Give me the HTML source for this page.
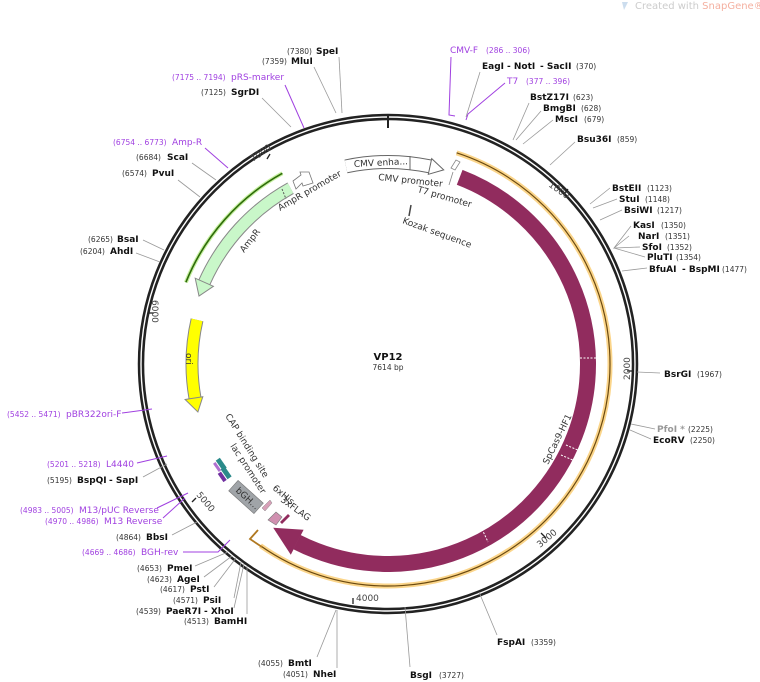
<!DOCTYPE html>
<html><head><meta charset="utf-8"><style>
html,body{margin:0;padding:0;background:#fff;}
svg{display:block;font-family:"DejaVu Sans","Liberation Sans",sans-serif;}
.n{font-size:7.5px;fill:#333;}
.b{font-size:9px;font-weight:bold;fill:#111;}
.p{font-size:9px;fill:#a040e0;}
.pn{font-size:7.5px;fill:#a040e0;}
.f{font-size:9px;fill:#333;}
.t{font-size:9px;fill:#444;}
.l{stroke:#999;stroke-width:0.8;fill:none;}
.lp{stroke:#a040e0;stroke-width:1;fill:none;}
</style></head><body>
<svg width="760" height="682" viewBox="0 0 760 682" xmlns="http://www.w3.org/2000/svg">
<text x="635" y="9" font-size="10" fill="#ccc">Created with <tspan fill="#f4b0a0">SnapGene®</tspan></text>
<polygon points="622,2 628,2 624,10" fill="#cde"/>

<!-- backbone -->
<circle cx="388" cy="364" r="247" fill="none" stroke="#222" stroke-width="6.5"/>
<circle cx="388" cy="364" r="247" fill="none" stroke="#fff" stroke-width="1.4"/>
<line x1="388" y1="116" x2="388" y2="128" stroke="#222" stroke-width="2"/>

<!-- ticks -->
<g stroke="#222" stroke-width="1.3">
<line x1="568" y1="189" x2="564" y2="194"/>
<line x1="634" y1="371" x2="627" y2="371"/>
<line x1="541" y1="533" x2="546" y2="538"/>
<line x1="353" y1="598" x2="353" y2="604"/>
<line x1="196" y1="498" x2="192" y2="502"/>
<line x1="148" y1="313" x2="154" y2="313"/>
<line x1="267" y1="159" x2="270" y2="154"/>
</g>
<g class="t" font-size="8.5">
<text transform="translate(548,186) rotate(35)">1000</text>
<text transform="translate(630,380) rotate(-90)">2000</text>
<text transform="translate(540,548) rotate(-40)">3000</text>
<text x="356" y="601">4000</text>
<text transform="translate(196,495) rotate(50)">5000</text>
<text transform="translate(152,300) rotate(90)">6000</text>
<text transform="translate(253,162) rotate(-35)">7000</text>
</g>

<!-- orange arc -->
<circle cx="388" cy="364" r="222" fill="none" stroke="#fbd58a" stroke-width="5" stroke-dasharray="763.4 2000" transform="rotate(-72 388 364)"/>
<circle cx="388" cy="364" r="222" fill="none" stroke="#6b4a10" stroke-width="1.2" stroke-dasharray="763.4 2000" transform="rotate(-72 388 364)"/>
<polyline points="262,547 250,539 258,530" fill="none" stroke="#b07820" stroke-width="1.8"/>

<!-- SpCas9 -->
<circle cx="388" cy="364" r="200" fill="none" stroke="#912c5e" stroke-width="16" stroke-dasharray="649.3 2000" transform="rotate(-69 388 364)"/>
<polygon points="303.6,529.7 290.8,554.7 273.2,527.8" fill="#912c5e"/>
<g stroke="#fff" stroke-width="1" stroke-dasharray="2 1.5">
<line x1="580" y1="358" x2="596" y2="358"/>
<line x1="566" y1="445" x2="580" y2="451"/>
<line x1="561" y1="455" x2="575" y2="461"/>
<line x1="482" y1="529" x2="488" y2="542"/>
</g>
<text class="f" transform="translate(548,465) rotate(-64)">SpCas9-HF1</text>

<!-- CMV enhancer / promoter -->
<circle cx="388" cy="364" r="202" fill="none" stroke="#666" stroke-width="14" stroke-dasharray="84.6 2000" transform="rotate(-102 388 364)"/>
<circle cx="388" cy="364" r="202" fill="none" stroke="#fff" stroke-width="12" stroke-dasharray="84.6 2000" transform="rotate(-102 388 364)"/>
<polygon points="428.3,174.3 431.7,158.6 443.7,169.9" fill="#fff" stroke="#666" stroke-width="1"/>
<line x1="410" y1="156" x2="410" y2="170" stroke="#666" stroke-width="1"/>
<text class="f" transform="translate(354,167) rotate(-3)">CMV enha...</text>
<text class="f" transform="translate(378,180) rotate(6)">CMV promoter</text>
<text class="f" transform="translate(417,192) rotate(16)">T7 promoter</text>
<text class="f" transform="translate(402,223) rotate(20)">Kozak sequence</text>
<line x1="411" y1="205" x2="409" y2="216" stroke="#444" stroke-width="1.5"/>
<polygon points="451,168 455,170 460,162 456,160" fill="#fff" stroke="#888" stroke-width="0.8"/>
<line x1="453" y1="172" x2="449" y2="185" stroke="#888" stroke-width="0.8"/>

<!-- AmpR -->
<circle cx="388" cy="364" r="218" fill="none" stroke="#c6f0a0" stroke-width="4" stroke-dasharray="148.4 2000" transform="rotate(-158 388 364)"/>
<circle cx="388" cy="364" r="218" fill="none" stroke="#2e6b0a" stroke-width="1.6" stroke-dasharray="148.4 2000" transform="rotate(-158 388 364)"/>
<circle cx="388" cy="364" r="201" fill="none" stroke="#888" stroke-width="13" stroke-dasharray="129.8 2000" transform="rotate(-156 388 364)"/>
<circle cx="388" cy="364" r="201" fill="none" stroke="#c9f7c9" stroke-width="11" stroke-dasharray="129.8 2000" transform="rotate(-156 388 364)"/>
<polygon points="213.4,286.3 195.2,278.2 199,296" fill="#c9f7c9" stroke="#888" stroke-width="1"/>
<line x1="282" y1="189" x2="286" y2="199" stroke="#555" stroke-width="1" stroke-dasharray="2 1.5"/>
<polygon points="293,181 301,175 300,172 309,172 313,183 303,186 302,183 296,189" fill="#fff" stroke="#777" stroke-width="0.8"/>
<text class="f" transform="translate(280,211) rotate(-30)">AmpR promoter</text>
<text class="f" transform="translate(244,253) rotate(-52)">AmpR</text>

<!-- ori -->
<circle cx="388" cy="364" r="196" fill="none" stroke="#888" stroke-width="13" stroke-dasharray="78.7 2000" transform="rotate(-190 388 364)"/>
<circle cx="388" cy="364" r="196" fill="none" stroke="#ffff00" stroke-width="11" stroke-dasharray="78.7 2000" transform="rotate(-190 388 364)"/>
<polygon points="202.8,396.7 185.1,399.5 197.9,412" fill="#ffff00" stroke="#888" stroke-width="1"/>
<text class="f" transform="translate(186,353) rotate(90)">ori</text>

<!-- small lower-left features -->
<g transform="translate(220,465) rotate(55)">
<rect x="-6" y="-4" width="12" height="5" fill="#2a8a8a"/>
<rect x="-5" y="2" width="10" height="3" fill="#b070d0"/>
<rect x="4" y="-3" width="12" height="5" fill="#2a8a8a"/>
<rect x="6" y="3" width="10" height="4" fill="#7030a0"/>
</g>
<g transform="translate(246,497) rotate(42)">
<rect x="-17" y="-7" width="34" height="14" fill="#a0a4a8" stroke="#777" stroke-width="0.6"/>
<text x="-12" y="3" font-size="9" fill="#333">bGH...</text>
</g>
<polygon points="262,508 270,500 272,503 265,511" fill="#d8a0b8" stroke="#888" stroke-width="0.5"/>
<polygon points="268,520 276,512 282,517 276,525" fill="#d090b0" stroke="#777" stroke-width="0.6"/>
<polygon points="280,522 288,514 290,516 282,524" fill="#912c5e"/>
<text class="f" transform="translate(225,416) rotate(58)">CAP binding site</text>
<text class="f" transform="translate(230,446) rotate(57)">lac promoter</text>
<text class="f" transform="translate(272,489) rotate(40)">6xHis</text>
<text class="f" transform="translate(280,501) rotate(36)">3xFLAG</text>

<!-- center -->
<text x="388" y="360" text-anchor="middle" font-size="10" font-weight="bold" fill="#111">VP12</text>
<text x="388" y="370" text-anchor="middle" font-size="7.5" fill="#333">7614 bp</text>

<!-- top-left labels -->
<text class="n" x="287" y="54">(7380)</text><text class="b" x="316" y="54">SpeI</text>
<polyline class="l" points="339,57 342,113"/>
<text class="n" x="262" y="64">(7359)</text><text class="b" x="291" y="64">MluI</text>
<polyline class="l" points="314,67 336,113"/>
<text class="pn" x="172" y="80">(7175 .. 7194)</text><text class="p" x="231" y="80">pRS-marker</text>
<polyline class="lp" points="285,85 304,128"/>
<text class="n" x="201" y="95">(7125)</text><text class="b" x="231" y="95">SgrDI</text>
<polyline class="l" points="262,98 291,127"/>
<text class="pn" x="113" y="145">(6754 .. 6773)</text><text class="p" x="172" y="145">Amp-R</text>
<polyline class="lp" points="205,148 228,168"/>
<text class="n" x="136" y="160">(6684)</text><text class="b" x="167" y="160">ScaI</text>
<polyline class="l" points="192,163 216,180"/>
<text class="n" x="122" y="176">(6574)</text><text class="b" x="152" y="176">PvuI</text>
<polyline class="l" points="178,180 200,197"/>
<text class="n" x="88" y="242">(6265)</text><text class="b" x="117" y="242">BsaI</text>
<polyline class="l" points="143,240 164,250"/>
<text class="n" x="80" y="254">(6204)</text><text class="b" x="110" y="254">AhdI</text>
<polyline class="l" points="136,253 160,262"/>

<!-- bottom-left labels -->
<text class="pn" x="7" y="417">(5452 .. 5471)</text><text class="p" x="66" y="417">pBR322ori-F</text>
<polyline class="lp" points="122,413 152,409"/>
<text class="pn" x="47" y="467">(5201 .. 5218)</text><text class="p" x="106" y="467">L4440</text>
<polyline class="lp" points="137,463 167,456"/>
<text class="n" x="47" y="483">(5195)</text><text class="b" x="77" y="483">BspQI</text><text class="b" x="109" y="483">- SapI</text>
<polyline class="l" points="143,477 167,464"/>
<text class="pn" x="20" y="513">(4983 .. 5005)</text><text class="p" x="79" y="513">M13/pUC Reverse</text>
<polyline class="lp" points="157,508 188,493"/>
<text class="pn" x="45" y="524">(4970 .. 4986)</text><text class="p" x="104" y="524">M13 Reverse</text>
<polyline class="lp" points="163,518 185,498"/>
<text class="n" x="116" y="540">(4864)</text><text class="b" x="146" y="540">BbsI</text>
<polyline class="l" points="172,535 197,522"/>
<text class="pn" x="82" y="555">(4669 .. 4686)</text><text class="p" x="141" y="555">BGH-rev</text>
<polyline class="lp" points="183,552 218,552 230,540"/>
<text class="n" x="137" y="571">(4653)</text><text class="b" x="167" y="571">PmeI</text>
<polyline class="l" points="195,566 228,552"/>
<text class="n" x="147" y="582">(4623)</text><text class="b" x="177" y="582">AgeI</text>
<polyline class="l" points="204,577 232,556"/>
<text class="n" x="160" y="592">(4617)</text><text class="b" x="190" y="592">PstI</text>
<polyline class="l" points="214,587 236,558"/>
<text class="n" x="173" y="603">(4571)</text><text class="b" x="203" y="603">PsiI</text>
<polyline class="l" points="234,598 241,562"/>
<text class="n" x="136" y="614">(4539)</text><text class="b" x="166" y="614">PaeR7I</text><text class="b" x="204" y="614">- XhoI</text>
<polyline class="l" points="234,608 244,564"/>
<text class="n" x="184" y="624">(4513)</text><text class="b" x="214" y="624">BamHI</text>
<polyline class="l" points="247,614 247,566"/>
<text class="n" x="258" y="666">(4055)</text><text class="b" x="288" y="666">BmtI</text>
<polyline class="l" points="317,657 336,610"/>
<text class="n" x="283" y="677">(4051)</text><text class="b" x="313" y="677">NheI</text>
<polyline class="l" points="337,668 337,610"/>

<!-- bottom-right -->
<text class="b" x="410" y="678">BsgI</text><text class="n" x="439" y="678">(3727)</text>
<polyline class="l" points="410,667 405,607"/>
<text class="b" x="497" y="645">FspAI</text><text class="n" x="531" y="645">(3359)</text>
<polyline class="l" points="497,635 479,592"/>
<text x="657" y="432" font-size="9" font-weight="bold" fill="#999">PfoI *</text><text class="n" x="688" y="432">(2225)</text>
<polyline class="l" points="655,429 631,424"/>
<text class="b" x="653" y="443">EcoRV</text><text class="n" x="690" y="443">(2250)</text>
<polyline class="l" points="651,439 630,430"/>
<text class="b" x="664" y="377">BsrGI</text><text class="n" x="697" y="377">(1967)</text>
<polyline class="l" points="660,373 637,372"/>

<!-- top-right -->
<text class="p" x="450" y="53">CMV-F</text><text class="pn" x="486" y="53">(286 .. 306)</text>
<polyline class="lp" points="451,57 449,115 455,116"/>
<text class="b" x="482" y="69">EagI</text><text class="b" x="507" y="69">- NotI</text><text class="b" x="540" y="69">- SacII</text><text class="n" x="576" y="69">(370)</text>
<polyline class="l" points="480,72 466,117"/>
<text class="p" x="507" y="84">T7</text><text class="pn" x="526" y="84">(377 .. 396)</text>
<polyline class="lp" points="505,83 468,114 466,120"/>
<text class="b" x="530" y="100">BstZ17I</text><text class="n" x="573" y="100">(623)</text>
<polyline class="l" points="529,103 513,140"/>
<text class="b" x="543" y="111">BmgBI</text><text class="n" x="581" y="111">(628)</text>
<polyline class="l" points="541,111 516,140"/>
<text class="b" x="555" y="122">MscI</text><text class="n" x="584" y="122">(679)</text>
<polyline class="l" points="553,120 523,144"/>
<text class="b" x="577" y="142">Bsu36I</text><text class="n" x="617" y="142">(859)</text>
<polyline class="l" points="575,142 550,165"/>
<text class="b" x="612" y="191">BstEII</text><text class="n" x="647" y="191">(1123)</text>
<polyline class="l" points="610,188 590,204"/>
<text class="b" x="619" y="202">StuI</text><text class="n" x="645" y="202">(1148)</text>
<polyline class="l" points="617,199 593,208"/>
<text class="b" x="624" y="213">BsiWI</text><text class="n" x="657" y="213">(1217)</text>
<polyline class="l" points="622,210 600,220"/>
<text class="b" x="633" y="228">KasI</text><text class="n" x="661" y="228">(1350)</text>
<text class="b" x="638" y="239">NarI</text><text class="n" x="665" y="239">(1351)</text>
<text class="b" x="642" y="250">SfoI</text><text class="n" x="667" y="250">(1352)</text>
<text class="b" x="647" y="260">PluTI</text><text class="n" x="676" y="260">(1354)</text>
<polyline class="l" points="631,226 614,248 629,236 614,248 640,247 614,248 645,257 614,248"/>
<text class="b" x="649" y="272">BfuAI</text><text class="b" x="682" y="272">- BspMI</text><text class="n" x="722" y="272">(1477)</text>
<polyline class="l" points="647,268 622,271"/>
</svg>
</body></html>
